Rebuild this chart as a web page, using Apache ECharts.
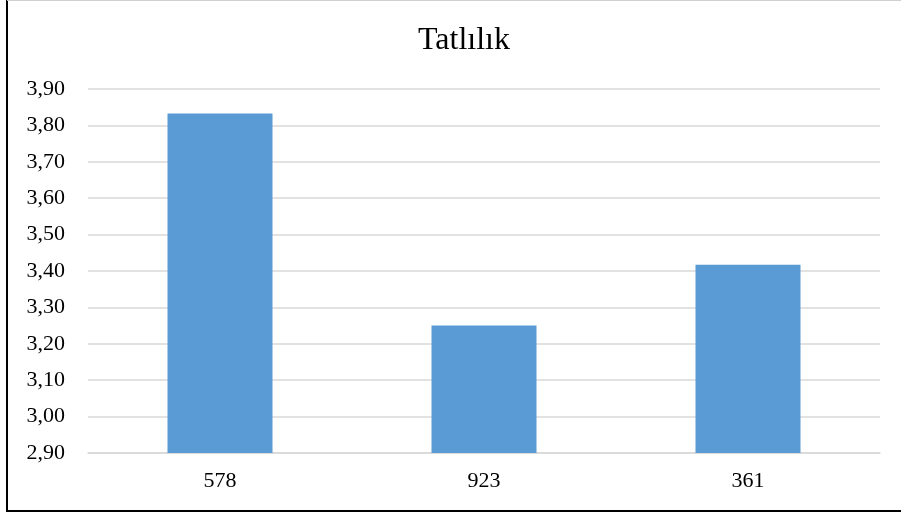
<!DOCTYPE html>
<html>
<head>
<meta charset="utf-8">
<script src="https://cdn.jsdelivr.net/npm/echarts@6/dist/echarts.min.js"></script>
<style>html,body{margin:0;padding:0;background:#fff}#c{width:901px;height:513px}</style>
</head>
<body>
<div id="c"></div>
<script>
const titleText = 'Tatlılık';
const categories = ['578', '923', '361'];
const values = [3.833, 3.25, 3.417];
const yMin = 2.9, yMax = 3.9, yStep = 0.1;

const chart = echarts.init(document.getElementById('c'), null, {renderer: 'canvas'});
const serif = '"Liberation Serif", "Times New Roman", serif';
chart.setOption({
  animation: false,
  backgroundColor: '#fff',
  title: {
    text: titleText,
    left: 413,
    top: 20,
    textStyle: {fontFamily: serif, fontSize: 32, fontWeight: 'normal', color: '#000'}
  },
  grid: {left: 88, right: 21, top: 89, bottom: 60, containLabel: false},
  xAxis: {
    type: 'category',
    data: categories,
    axisLine: {lineStyle: {color: '#d9d9d9', width: 1.5}},
    axisTick: {show: false},
    axisLabel: {fontFamily: serif, fontSize: 22, color: '#000', margin: 17}
  },
  yAxis: {
    type: 'value',
    min: yMin, max: yMax, interval: yStep,
    axisLine: {show: false},
    axisTick: {show: false},
    splitLine: {lineStyle: {color: '#d9d9d9', width: 1.5}},
    axisLabel: {
      fontFamily: serif, fontSize: 22, color: '#000', margin: 23,
      formatter: v => v.toFixed(2).replace('.', ',')
    }
  },
  series: [{
    type: 'bar',
    data: values,
    barWidth: 105,
    itemStyle: {color: '#5b9bd5'}
  }],
  graphic: [
    {type: 'line', shape: {x1: 7, y1: 0, x2: 7, y2: 512}, style: {stroke: '#000', lineWidth: 2}},
    {type: 'line', shape: {x1: 6, y1: 511, x2: 901, y2: 511}, style: {stroke: '#000', lineWidth: 2}},
    {type: 'line', shape: {x1: 7, y1: 0.5, x2: 901, y2: 0.5}, style: {stroke: '#d0d0d0', lineWidth: 1}}
  ]
});
</script>
</body>
</html>
